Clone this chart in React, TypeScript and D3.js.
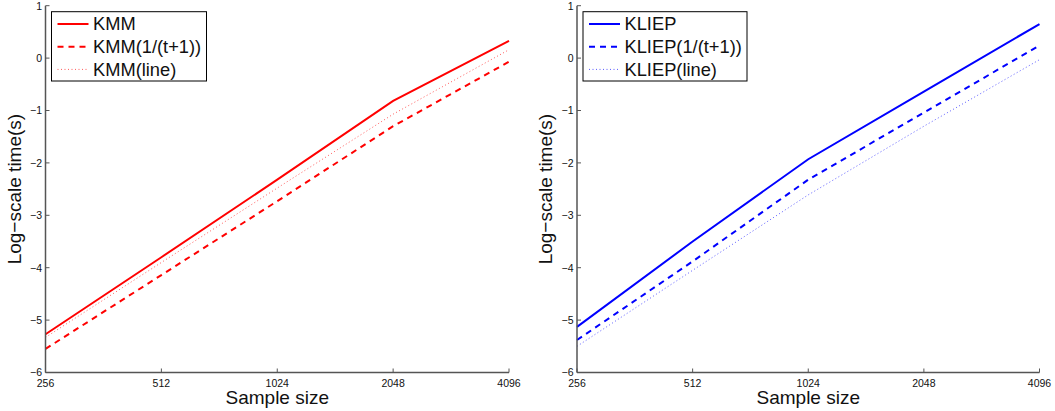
import React from "react";
import * as d3 from "d3";

// sample sizes on the x axis (log2 scale)
const sizes = [256, 512, 1024, 2048, 4096];
const yTicks = [1, 0, -1, -2, -3, -4, -5, -6];

// left panel: KMM
const kmm = [-5.27, -3.8, -2.32, -0.815, 0.33];
const kmmInv = [-5.55, -4.14, -2.73, -1.3, -0.07];
const kmmLine = [-5.33, -3.9, -2.48, -1.07, 0.16];

// right panel: KLIEP
const kliep = [-5.13, -3.5, -1.93, -0.64, 0.65];
const kliepInv = [-5.38, -3.88, -2.32, -1.04, 0.24];
const kliepLine = [-5.5, -4.05, -2.61, -1.3, -0.03];

const FONT = "'Liberation Sans', Arial, Helvetica, sans-serif";
const AXIS = "#555";

type Series = { name: string; values: number[]; style: "solid" | "dash" | "dot" };

function strokeProps(style: string, color: string) {
  if (style === "dash") return { stroke: color, strokeWidth: 2, strokeDasharray: "6,5" };
  if (style === "dot") return { stroke: color, strokeWidth: 1, strokeDasharray: "1,2.5", strokeOpacity: 0.65 };
  return { stroke: color, strokeWidth: 2 };
}

function Panel(props: { x0: number; x1: number; color: string; series: Series[]; legendW: number }) {
  const { x0, x1, color, series, legendW } = props;
  const yTop = 5.7, yBot = 372.5;
  const x = d3.scaleLog().base(2).domain([256, 4096]).range([x0, x1]);
  const y = d3.scaleLinear().domain([1, -6]).range([yTop, yBot]);
  const line = d3
    .line<number>()
    .x((d, i) => x(sizes[i]))
    .y((d) => y(d));

  const lx = x0 + 6, ly = 11.7, rowH = 22.7;
  return (
    <g>
      {series.map((s) => (
        <path key={s.name} d={line(s.values) || ""} fill="none" {...strokeProps(s.style, color)} />
      ))}
      {/* axes */}
      <line x1={x0} x2={x0} y1={yTop} y2={yBot} stroke={AXIS} strokeWidth={1.5} />
      <line x1={x0} x2={x1} y1={yBot} y2={yBot} stroke={AXIS} strokeWidth={1.5} />
      {yTicks.map((t) => (
        <g key={t}>
          <line x1={x0} x2={x0 + 4} y1={y(t)} y2={y(t)} stroke={AXIS} strokeWidth={1} />
          <text x={x0 - 3.5} y={y(t) + 3.8} fontSize={10.5} textAnchor="end" fontFamily={FONT} fill="#111">
            {t < 0 ? "\u2212" + Math.abs(t) : t}
          </text>
        </g>
      ))}
      {sizes.map((t) => (
        <g key={t}>
          <line x1={x(t)} x2={x(t)} y1={yBot} y2={yBot - 4} stroke={AXIS} strokeWidth={1} />
          <text x={x(t)} y={yBot + 14} fontSize={10.5} textAnchor="middle" fontFamily={FONT} fill="#111">
            {t}
          </text>
        </g>
      ))}
      <text x={(x0 + x1) / 2} y={404} fontSize={19} textAnchor="middle" fontFamily={FONT} fill="#111">
        Sample size
      </text>
      <text
        transform={`translate(${x0 - 25},${(yTop + yBot) / 2}) rotate(-90)`}
        fontSize={19}
        textAnchor="middle"
        fontFamily={FONT}
        fill="#111"
      >
        Log{"\u2212"}scale time(s)
      </text>
      {/* legend */}
      <rect x={lx} y={ly} width={legendW} height={69.3} fill="white" stroke="#000" strokeWidth={1} />
      {series.map((s, i) => {
        const cy = ly + 12.3 + i * rowH;
        return (
          <g key={s.name}>
            <line x1={lx + 6} x2={lx + 37} y1={cy} y2={cy} {...strokeProps(s.style, color)} />
            <text x={lx + 41.5} y={cy + 6.4} fontSize={18.3} fontFamily={FONT} fill="#111">
              {s.name}
            </text>
          </g>
        );
      })}
    </g>
  );
}

export default function App() {
  const left: Series[] = [
    { name: "KMM", values: kmm, style: "solid" },
    { name: "KMM(1/(t+1))", values: kmmInv, style: "dash" },
    { name: "KMM(line)", values: kmmLine, style: "dot" },
  ];
  const right: Series[] = [
    { name: "KLIEP", values: kliep, style: "solid" },
    { name: "KLIEP(1/(t+1))", values: kliepInv, style: "dash" },
    { name: "KLIEP(line)", values: kliepLine, style: "dot" },
  ];
  return (
    <svg
      width={1055}
      height={411}
      style={{ position: "absolute", left: 0, top: 0, background: "white" }}
    >
      <Panel x0={45.5} x1={509} color="#ff0000" series={left} legendW={155} />
      <Panel x0={577} x1={1039.5} color="#0000ff" series={right} legendW={164} />
    </svg>
  );
}
